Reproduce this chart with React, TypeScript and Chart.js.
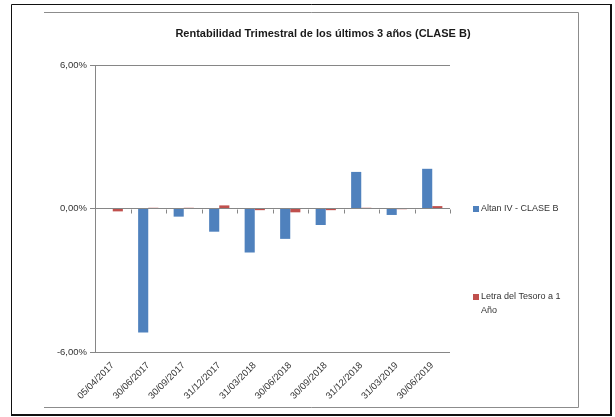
import React, { useEffect, useRef } from "react";
import { Chart, registerables } from "chart.js";

Chart.register(...registerables);

const TITLE = "Rentabilidad Trimestral de los últimos 3 años (CLASE B)";
const categories = [
  "05/04/2017",
  "30/06/2017",
  "30/09/2017",
  "31/12/2017",
  "31/03/2018",
  "30/06/2018",
  "30/09/2018",
  "31/12/2018",
  "31/03/2019",
  "30/06/2019",
];
const altanLabel = "Altan IV - CLASE B";
const altanValues = [0, -5.18, -0.34, -0.97, -1.84, -1.27, -0.69, 1.53, -0.27, 1.66];
const letraLabel = "Letra del Tesoro a 1 Año";
const letraValues = [-0.12, 0.03, 0.03, 0.13, -0.07, -0.16, -0.07, 0.03, -0.03, 0.1];
const yTicks = [-6, 0, 6];

const FONT = '"Liberation Sans", Arial, sans-serif';
const GREY = "#868686";

const fmt = (v: number) => v.toFixed(2).replace(".", ",") + "%";

const decorPlugin = {
  id: "decor",
  beforeDraw(chart: any) {
    const ctx = chart.ctx;
    ctx.save();
    ctx.fillStyle = "#ffffff";
    ctx.fillRect(0, 0, chart.width, chart.height);
    // outer black frame
    ctx.strokeStyle = "#111111";
    ctx.lineWidth = 1;
    ctx.beginPath();
    ctx.moveTo(11.5, 415);
    ctx.lineTo(11.5, 4.5);
    ctx.lineTo(611, 4.5);
    ctx.stroke();
    ctx.lineWidth = 2;
    ctx.beginPath();
    ctx.moveTo(611, 4);
    ctx.lineTo(611, 415);
    ctx.lineTo(11, 415);
    ctx.stroke();
    // inner grey chart frame
    ctx.strokeStyle = "#8c8c8c";
    ctx.lineWidth = 1;
    ctx.beginPath();
    ctx.moveTo(44, 12.5);
    ctx.lineTo(578.5, 12.5);
    ctx.lineTo(578.5, 407.5);
    ctx.lineTo(44, 407.5);
    ctx.stroke();
    ctx.restore();
  },
  afterDraw(chart: any) {
    const ctx = chart.ctx;
    const { left, right } = chart.chartArea;
    const yScale = chart.scales.y;
    const y0 = Math.round(yScale.getPixelForValue(0)) + 0.5;
    const n = chart.data.labels.length;
    ctx.save();
    // category tick marks on the zero line
    ctx.strokeStyle = GREY;
    ctx.lineWidth = 1;
    ctx.beginPath();
    for (let i = 1; i <= n; i++) {
      const x = Math.round(left + ((right - left) * i) / n) + 0.5;
      ctx.moveTo(x, y0);
      ctx.lineTo(x, y0 + 4);
    }
    ctx.stroke();
    // title
    ctx.fillStyle = "#1a1a1a";
    ctx.font = "bold 11px " + FONT;
    ctx.textAlign = "center";
    ctx.textBaseline = "middle";
    ctx.fillText(TITLE, 323, 34);
    // legend
    const legendY = [209, 297];
    ctx.font = "9px " + FONT;
    ctx.textAlign = "left";
    chart.data.datasets.forEach((ds: any, i: number) => {
      const y = legendY[i];
      ctx.fillStyle = ds.backgroundColor;
      ctx.fillRect(473, y - 3, 6, 6);
      ctx.fillStyle = "#333333";
      const words = String(ds.label).split(" ");
      const lines: string[] = [];
      let cur = "";
      words.forEach((w) => {
        const t = cur ? cur + " " + w : w;
        if (ctx.measureText(t).width > 88 && cur) {
          lines.push(cur);
          cur = w;
        } else cur = t;
      });
      if (cur) lines.push(cur);
      lines.forEach((l, k) => ctx.fillText(l, 481, y + k * 14));
    });
    ctx.restore();
  },
};

export default function App() {
  const ref = useRef<HTMLCanvasElement | null>(null);
  useEffect(() => {
    if (!ref.current) return;
    const chart = new Chart(ref.current, {
      type: "bar",
      data: {
        labels: categories,
        datasets: [
          {
            label: altanLabel,
            data: altanValues,
            backgroundColor: "#4F81BD",
            categoryPercentage: 0.57,
            barPercentage: 1,
          },
          {
            label: letraLabel,
            data: letraValues,
            backgroundColor: "#C0504D",
            categoryPercentage: 0.57,
            barPercentage: 1,
          },
        ],
      },
      options: {
        responsive: false,
        animation: false,
        layout: { padding: { left: 0, top: 65, right: 165, bottom: 0 } },
        plugins: {
          legend: { display: false },
          title: { display: false },
          tooltip: { enabled: false },
        },
        scales: {
          x: {
            grid: { display: false },
            border: { display: false },
            ticks: {
              autoSkip: false,
              minRotation: 45,
              maxRotation: 45,
              padding: 0,
              color: "#333333",
              font: { family: FONT, size: 9.5 },
            },
            afterFit: (s: any) => {
              s.height = 65;
            },
          },
          y: {
            min: -6,
            max: 6,
            afterBuildTicks: (s: any) => {
              s.ticks = yTicks.map((v) => ({ value: v }));
            },
            grid: { color: GREY, tickLength: 5, lineWidth: 1 },
            border: { display: true, color: GREY },
            ticks: {
              padding: 3,
              color: "#333333",
              font: { family: FONT, size: 9.5 },
              callback: (v: any) => fmt(Number(v)),
            },
            afterFit: (s: any) => {
              s.width = 95;
            },
          },
        },
      },
      plugins: [decorPlugin],
    } as any);
    return () => chart.destroy();
  }, []);
  return (
    <div style={{ position: "absolute", left: 0, top: 0, width: 615, height: 417 }}>
      <canvas ref={ref} width={615} height={417} />
    </div>
  );
}
